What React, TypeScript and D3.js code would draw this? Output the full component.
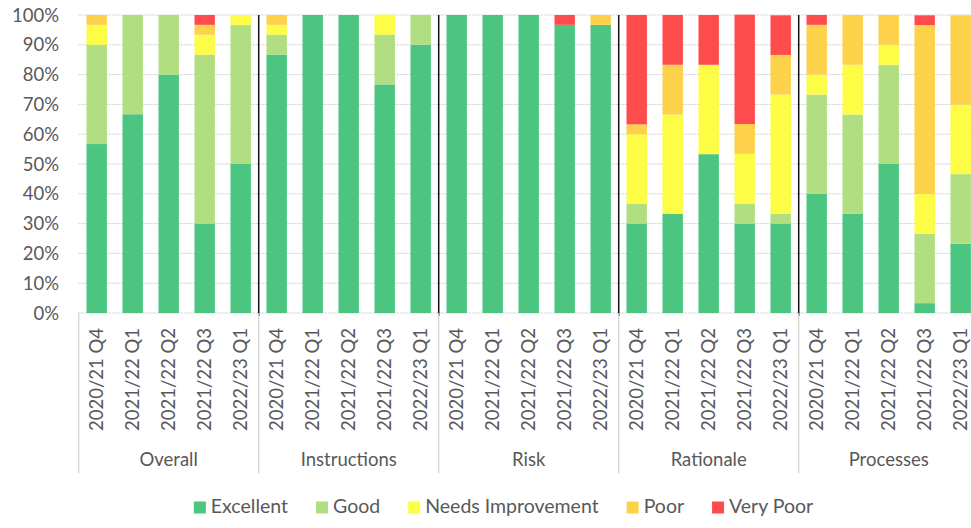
import React, { useEffect, useRef } from "react";
import * as d3 from "d3";

const groups = ["Overall", "Instructions", "Risk", "Rationale", "Processes"];
const periods = ["2020/21 Q4", "2021/22 Q1", "2021/22 Q2", "2021/22 Q3", "2022/23 Q1"];
const seriesNames = ["Excellent", "Good", "Needs Improvement", "Poor", "Very Poor"];
const seriesColors = ["#4bc580", "#b0de80", "#fdfd45", "#fed14b", "#fe4b4b"];
const yTicks = [0, 10, 20, 30, 40, 50, 60, 70, 80, 90, 100];

// percentages per bar, in order: groups x periods
const excellent = [
  56.7, 66.7, 80, 30, 50,
  86.7, 100, 100, 76.7, 90,
  100, 100, 100, 96.7, 96.7,
  30, 33.3, 53.3, 30, 30,
  40, 33.3, 50, 3.3, 23.3,
];
const good = [
  33.3, 33.3, 20, 56.7, 46.7,
  6.7, 0, 0, 16.7, 10,
  0, 0, 0, 0, 0,
  6.7, 0, 0, 6.7, 3.3,
  33.3, 33.3, 33.3, 23.3, 23.3,
];
const needsImprovement = [
  6.7, 0, 0, 6.7, 3.3,
  3.3, 0, 0, 6.7, 0,
  0, 0, 0, 0, 0,
  23.3, 33.3, 30, 16.7, 40,
  6.7, 16.7, 6.7, 13.3, 23.3,
];
const poor = [
  3.3, 0, 0, 3.3, 0,
  3.3, 0, 0, 0, 0,
  0, 0, 0, 0, 3.3,
  3.3, 16.7, 0, 10, 13.3,
  16.7, 16.7, 10, 56.7, 30,
];
const veryPoor = [
  0, 0, 0, 3.3, 0,
  0, 0, 0, 0, 0,
  0, 0, 0, 3.3, 0,
  36.7, 16.7, 16.7, 36.7, 13.3,
  3.3, 0, 0, 3.3, 0,
];

const W = 971;
const H = 528;
const FONT = "Lato, 'Open Sans', sans-serif";
const TEXT = "#595959";

export default function App() {
  const ref = useRef<SVGSVGElement>(null);

  useEffect(() => {
    const svg = d3.select(ref.current);
    svg.selectAll("*").remove();

    const left = 78.7;
    const top = 15;
    const bottom = 313;
    const step = 36;
    const nCats = groups.length * periods.length;
    const right = left + step * nCats;

    const cats: { key: string; group: string; period: string; i: number }[] = [];
    groups.forEach((g) =>
      periods.forEach((p) => cats.push({ key: g + "|" + p, group: g, period: p, i: cats.length }))
    );

    const x = d3
      .scaleBand<string>()
      .domain(cats.map((c) => c.key))
      .range([left, right])
      .paddingInner(0.433)
      .paddingOuter(0.2165);
    const y = d3.scaleLinear().domain([0, 100]).range([bottom, top]);

    const seriesData = [excellent, good, needsImprovement, poor, veryPoor];
    const rows = cats.map((c, i) => {
      const r: any = { key: c.key };
      seriesNames.forEach((s, si) => (r[s] = seriesData[si][i]));
      return r;
    });
    const stacked = d3.stack<any>().keys(seriesNames)(rows);

    // gridlines
    svg
      .append("g")
      .selectAll("line")
      .data(yTicks)
      .join("line")
      .attr("x1", left)
      .attr("x2", right)
      .attr("y1", (d) => y(d))
      .attr("y2", (d) => y(d))
      .attr("stroke", "#cfcfcf")
      .attr("stroke-width", 1)
      .attr("stroke-dasharray", "2,1");

    // y tick labels
    svg
      .append("g")
      .selectAll("text")
      .data(yTicks)
      .join("text")
      .attr("x", 59)
      .attr("y", (d) => y(d))
      .attr("dy", "0.36em")
      .attr("text-anchor", "end")
      .attr("font-family", FONT)
      .attr("font-size", 18.5)
      .attr("fill", TEXT)
      .text((d) => d + "%");

    // bars
    svg
      .append("g")
      .selectAll("g")
      .data(stacked)
      .join("g")
      .attr("fill", (_d, i) => seriesColors[i])
      .selectAll("rect")
      .data((d) => d)
      .join("rect")
      .attr("x", (d: any) => x(d.data.key)!)
      .attr("width", x.bandwidth())
      .attr("y", (d) => y(d[1]))
      .attr("height", (d) => Math.max(0, y(d[0]) - y(d[1])));

    // group boundaries
    const bounds = d3.range(groups.length + 1).map((gi) => left + gi * periods.length * step);
    svg
      .append("g")
      .selectAll("line")
      .data(bounds.slice(1, groups.length))
      .join("line")
      .attr("x1", (d) => d)
      .attr("x2", (d) => d)
      .attr("y1", top)
      .attr("y2", bottom + 3)
      .attr("stroke", "#111")
      .attr("stroke-width", 1.5);

    svg
      .append("g")
      .selectAll("line")
      .data(bounds)
      .join("line")
      .attr("x1", (d) => d)
      .attr("x2", (d) => d)
      .attr("y1", bottom)
      .attr("y2", 473)
      .attr("stroke", "#d0d0d0")
      .attr("stroke-width", 1.2);

    // period labels (rotated)
    svg
      .append("g")
      .selectAll("text")
      .data(cats)
      .join("text")
      .attr("transform", (c) => `translate(${x(c.key)! + x.bandwidth() / 2},328) rotate(-90)`)
      .attr("dy", "0.36em")
      .attr("text-anchor", "end")
      .attr("font-family", FONT)
      .attr("font-size", 18.5)
      .attr("fill", TEXT)
      .text((c) => c.period);

    // group labels
    svg
      .append("g")
      .selectAll("text")
      .data(groups)
      .join("text")
      .attr("x", (_g, gi) => left + (gi + 0.5) * periods.length * step)
      .attr("y", 465.5)
      .attr("text-anchor", "middle")
      .attr("font-family", FONT)
      .attr("font-size", 18.5)
      .attr("fill", TEXT)
      .text((g) => g);

    // legend
    const lg = svg.append("g");
    const items = lg
      .selectAll("g")
      .data(seriesNames)
      .join("g");
    items
      .append("rect")
      .attr("width", 12)
      .attr("height", 12)
      .attr("y", 501.5)
      .attr("fill", (_d, i) => seriesColors[i]);
    items
      .append("text")
      .attr("x", 17)
      .attr("y", 513)
      .attr("font-family", FONT)
      .attr("font-size", 19.5)
      .attr("fill", TEXT)
      .text((d) => d);
    const gap = 28;
    let cx = 0;
    const offsets: number[] = [];
    items.each(function () {
      const t = (this as SVGGElement).querySelector("text") as SVGTextElement;
      const w = 17 + t.getComputedTextLength();
      offsets.push(cx);
      cx += w + gap;
    });
    const total = cx - gap;
    const start = 503.5 - total / 2;
    items.attr("transform", (_d, i) => `translate(${start + offsets[i]},0)`);
  }, []);

  return (
    <svg
      ref={ref}
      width={W}
      height={H}
      style={{ position: "absolute", left: 0, top: 0, background: "#fff" }}
    />
  );
}
